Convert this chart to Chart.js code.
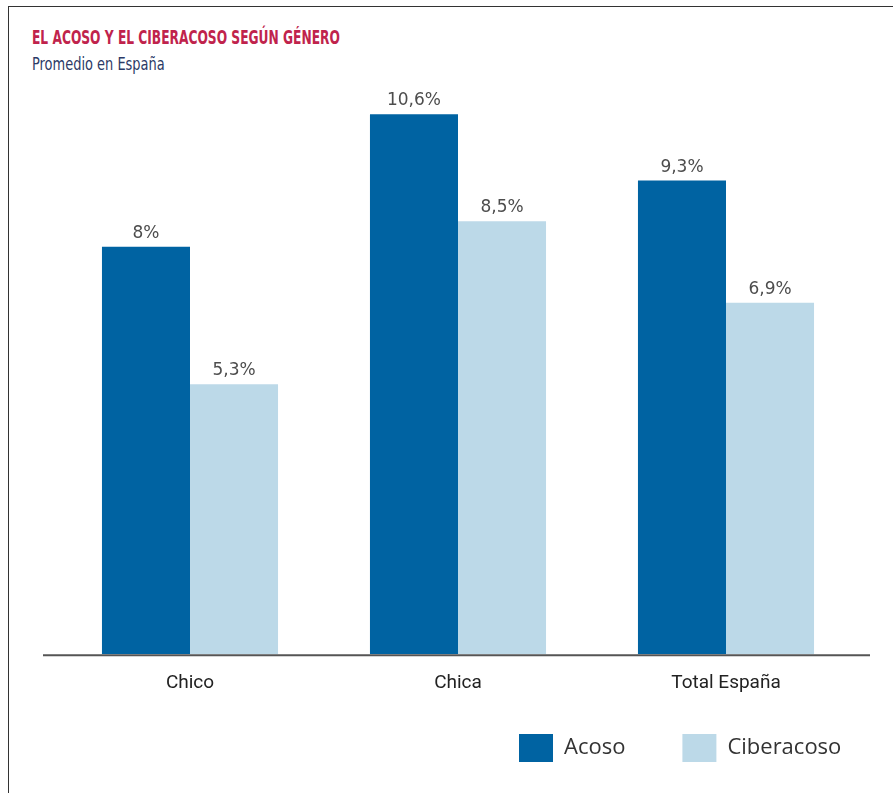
<!DOCTYPE html>
<html>
<head>
<meta charset="utf-8">
<script src="https://cdn.jsdelivr.net/npm/chart.js@4.4.1/dist/chart.umd.min.js"></script>
<style>
  html, body { margin: 0; padding: 0; background: #fff; }
  #wrap { position: relative; width: 893px; height: 793px; overflow: hidden; }
  #frame {
    position: absolute; left: 8px; top: 6px; right: -10px; bottom: -10px;
    border-left: 1.5px solid #333; border-top: 1.5px solid #333;
  }
  .head {
    position: absolute; left: 32px; white-space: nowrap;
    font-family: "Liberation Sans Narrow", "DejaVu Sans Condensed", sans-serif;
    transform-origin: 0 0;
  }
  #title { top: 26px; font-weight: bold; font-size: 19px; color: #c0234c; }
  #subtitle { top: 53px; font-size: 18px; color: #2c3a66; }
  #chart { position: absolute; left: 0; top: 0; }
</style>
</head>
<body>
<div id="wrap">
  <div id="frame"></div>
  <div id="title" class="head">EL ACOSO Y EL CIBERACOSO SEGÚN GÉNERO</div>
  <div id="subtitle" class="head">Promedio en España</div>
  <canvas id="chart" width="893" height="793"></canvas>
</div>
<script>
// Chart data
const categories = ['Chico', 'Chica', 'Total España'];
const acoso = [8, 10.6, 9.3];
const ciberacoso = [5.3, 8.5, 6.9];
const seriesNames = ['Acoso', 'Ciberacoso'];

// Squeeze heading text to a narrow look
function fitWidth(id, w) {
    const el = document.getElementById(id);
    el.style.transform = 'scaleX(' + (w / el.offsetWidth) + ')';
}
fitWidth('title', 308);
fitWidth('subtitle', 133);

// Format value like "10,6%"
function formatPct(v) {
    return String(v).replace('.', ',') + '%';
}

// Draw value labels above each bar
const valueLabels = {
    id: 'valueLabels',
    afterDatasetsDraw(chart) {
        const ctx = chart.ctx;
        ctx.save();
        ctx.font = '17px "DejaVu Sans", sans-serif';
        ctx.fillStyle = '#4d4d4d';
        ctx.textAlign = 'center';
        ctx.textBaseline = 'alphabetic';
        chart.data.datasets.forEach((ds, i) => {
            chart.getDatasetMeta(i).data.forEach((bar, j) => {
                ctx.fillText(formatPct(ds.data[j]), bar.x, bar.y - 9);
            });
        });
        ctx.restore();
    }
};

// Baseline wider than the plot area
const baseline = {
    id: 'baseline',
    afterDatasetsDraw(chart) {
        const ctx = chart.ctx;
        const y = chart.scales.y.getPixelForValue(0);
        ctx.save();
        ctx.strokeStyle = '#555';
        ctx.lineWidth = 2;
        ctx.beginPath();
        ctx.moveTo(43, y + 1);
        ctx.lineTo(870, y + 1);
        ctx.stroke();
        ctx.restore();
    }
};

// Place legend at bottom right
const legendPlace = {
    id: 'legendPlace',
    afterLayout(chart) {
        const lg = chart.legend;
        const h = lg.bottom - lg.top;
        lg.right = 519 + lg.lineWidths[0];
        lg.left = lg.right - 420;
        lg.top = 734 - lg.options.labels.padding;
        lg.bottom = lg.top + h;
    }
};

new Chart(document.getElementById('chart'), {
    type: 'bar',
    data: {
        labels: categories,
        datasets: [
            {
                label: seriesNames[0],
                data: acoso,
                backgroundColor: '#0063a2',
                categoryPercentage: 0.657,
                barPercentage: 1.0
            },
            {
                label: seriesNames[1],
                data: ciberacoso,
                backgroundColor: '#bcd9e8',
                categoryPercentage: 0.657,
                barPercentage: 1.0
            }
        ]
    },
    options: {
        responsive: false,
        animation: false,
        layout: {
            padding: { left: 56, right: 33, top: 43, bottom: -7 }
        },
        plugins: {
            legend: {
                position: 'bottom',
                align: 'end',
                labels: {
                    boxWidth: 34,
                    boxHeight: 28,
                    padding: 57,
                    color: '#333',
                    font: { size: 22, family: '"Open Sans", sans-serif' }
                }
            },
            tooltip: { enabled: false }
        },
        scales: {
            x: {
                grid: { display: false },
                border: { display: false },
                ticks: {
                    color: '#222',
                    padding: 10,
                    font: { size: 19, family: 'Roboto, sans-serif' }
                }
            },
            y: {
                display: false,
                min: 0,
                max: 12
            }
        }
    },
    plugins: [valueLabels, baseline, legendPlace]
});
</script>
</body>
</html>
